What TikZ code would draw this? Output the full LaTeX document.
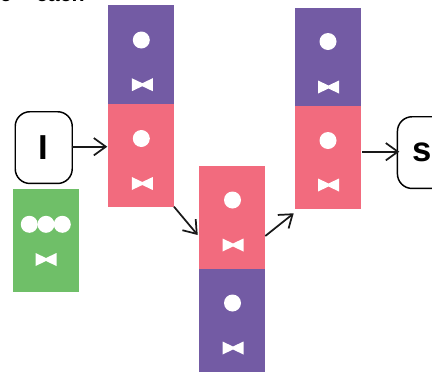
\documentclass[tikz,border=0pt]{standalone}
\usepackage{fontspec}
\setmainfont{Liberation Sans}
\usetikzlibrary{arrows.meta}
\definecolor{plum}{HTML}{735BA4}
\definecolor{rose}{HTML}{F26B7E}
\definecolor{leaf}{HTML}{6FBF68}
\tikzset{
  cell/.style={fill=#1,draw=none,inner sep=0pt,anchor=north west},
  dot/.style={circle,fill=white,inner sep=0pt,minimum size=12.75pt},
  bow/.style={fill=white,draw=none},
  term/.style={draw=black,line width=1.1pt,rounded corners=11pt,fill=white,font=\bfseries\fontsize{26}{26}\selectfont,inner sep=0pt,minimum width=42.75pt,minimum height=53.8pt,anchor=north west},
  link/.style={draw=black!90,line width=1.3pt,-{Straight Barb[length=9pt,width=13pt,line width=1.3pt]}},
}
\begin{document}
\begin{tikzpicture}[x=0.75pt,y=-0.75pt]
\useasboundingbox (0,0) rectangle (432,372);
\node[cell=plum,minimum width=49.8pt,minimum height=74pt] (a1) at (107.8,5) {};
\node[cell=rose,minimum width=49.8pt,minimum height=77pt] (a2) at (107.8,103.7) {};
\node[cell=rose,minimum width=49.5pt,minimum height=77pt] (b1) at (198.8,166) {};
\node[cell=plum,minimum width=49.5pt,minimum height=77pt] (b2) at (198.8,268.7) {};
\node[cell=plum,minimum width=50pt,minimum height=74pt] (c1) at (294.5,7.3) {};
\node[cell=rose,minimum width=50pt,minimum height=77pt] (c2) at (294.5,106) {};
\node[cell=leaf,minimum width=49.8pt,minimum height=77pt] (g) at (12.5,189) {};
\foreach \n/\x/\y in {d1/141.3/40,d2/141.3/138.5,d3/232.5/200,d4/232.5/303,d5/328/41.5,d6/328/140.5,g1/29.3/224.3,g2/46/224.3,g3/62.3/224.3}{
  \node[dot] (\n) at (\x,\y) {};
}
\foreach \x/\y in {142.3/84.7,142.3/183.5,233/245,233/348,328.5/87,328.5/185,46/259.5}{
  \fill[bow] (\x-10.5,\y-6.5) -- (\x,\y-1.5) -- (\x+10.5,\y-6.5) -- (\x+10.5,\y+6.5) -- (\x,\y+1.5) -- (\x-10.5,\y+6.5) -- cycle;
}
\node[term] (I) at (14.5,111) {I};
\node[term,text width=42.75pt,align=left] (S) at (396.7,116) {\hspace{11pt}s};
\node[font=\bfseries\fontsize{16}{16}\selectfont,anchor=base east,inner sep=0pt] (cap) at (85,1.5) {e + each};
\coordinate (i1) at (71.7,146.7);
\coordinate (i2) at (107.3,146.7);
\coordinate (k1) at (174,206.7);
\coordinate (k2) at (197.7,235);
\coordinate (m1) at (265.3,236);
\coordinate (m2) at (293.7,213.3);
\coordinate (s1) at (362,151.7);
\coordinate (s2) at (399.3,151.7);
\draw[link] (i1) -- (i2);
\draw[link] (k1) -- (k2);
\draw[link] (m1) -- (m2);
\draw[link] (s1) -- (s2);
\end{tikzpicture}
\end{document}
